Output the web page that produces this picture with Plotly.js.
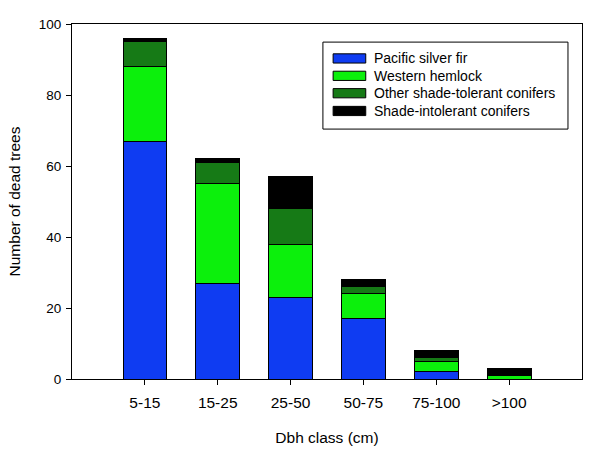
<!DOCTYPE html>
<html>
<head>
<meta charset="utf-8">
<script src="https://cdn.plot.ly/plotly-3.0.1.min.js"></script>
<style>html,body{margin:0;padding:0;background:#fff;}#chart{width:600px;height:449px;}</style>
</head>
<body>
<div id="chart"></div>
<script>
const categories = ['5-15', '15-25', '25-50', '50-75', '75-100', '>100'];
const pacificSilverFir = [67, 27, 23, 17, 2, 0];
const westernHemlock = [21, 28, 15, 7, 3, 1];
const otherShadeTolerant = [7, 6, 10, 2, 1, 0];
const shadeIntolerant = [1, 1, 9, 2, 2, 2];
const seriesNames = ['Pacific silver fir', 'Western hemlock', 'Other shade-tolerant conifers', 'Shade-intolerant conifers'];
const seriesColors = ['#0f3cf2', '#0cf00c', '#167a16', '#000000'];
const yTicks = [0, 20, 40, 60, 80, 100];

const seriesValues = [pacificSilverFir, westernHemlock, otherShadeTolerant, shadeIntolerant];
const font = 'Liberation Sans, Arial, sans-serif';

const traces = seriesValues.map((vals, i) => ({
  type: 'bar',
  x: categories,
  y: vals,
  name: seriesNames[i],
  marker: {color: seriesColors[i], line: {color: '#000', width: 1}},
  showlegend: false,
  hoverinfo: 'skip'
}));

// custom legend (box, swatches, labels)
const shapes = [{
  type: 'rect', xref: 'paper', yref: 'paper',
  x0: 0.492, x1: 0.9725, y0: 0.704, y1: 0.949,
  line: {color: '#000', width: 1}, fillcolor: 'rgba(0,0,0,0)'
}];
const annotations = [];
const rowY = [0.903, 0.854, 0.805, 0.755];
seriesNames.forEach((n, i) => {
  shapes.push({
    type: 'rect', xref: 'paper', yref: 'paper',
    x0: 0.512, x1: 0.576, y0: rowY[i] - 0.013, y1: rowY[i] + 0.013,
    line: {color: '#000', width: 1}, fillcolor: seriesColors[i]
  });
  annotations.push({
    xref: 'paper', yref: 'paper', x: 0.588, y: rowY[i],
    xanchor: 'left', yanchor: 'middle', showarrow: false,
    text: n, font: {family: font, size: 14, color: '#000'}
  });
});

const layout = {
  width: 600, height: 449,
  margin: {l: 72, r: 18, t: 24, b: 70},
  paper_bgcolor: '#fff', plot_bgcolor: '#fff',
  barmode: 'stack', bargap: 0.4,
  font: {family: font, color: '#000'},
  xaxis: {
    type: 'category', range: [-1, 6],
    showline: true, mirror: true, linecolor: '#000', linewidth: 1,
    ticks: 'outside', ticklen: 5, tickcolor: '#000', ticklabelstandoff: 4,
    showgrid: false, zeroline: false,
    tickfont: {family: font, size: 15.5, color: '#000'},
    title: {text: 'Dbh class (cm)', font: {family: font, size: 15.5, color: '#000'}, standoff: 22}
  },
  yaxis: {
    range: [0, 100], tickvals: yTicks, ticktext: yTicks.map(String),
    showline: true, mirror: true, linecolor: '#000', linewidth: 1,
    ticks: 'outside', ticklen: 5, tickcolor: '#000', ticklabelstandoff: 2,
    showgrid: false, zeroline: false,
    tickfont: {family: font, size: 13.5, color: '#000'},
    title: {text: 'Number of dead trees', font: {family: font, size: 15.5, color: '#000'}, standoff: 14}
  },
  shapes: shapes,
  annotations: annotations
};

Plotly.newPlot('chart', traces, layout, {staticPlot: true, displayModeBar: false});
</script>
</body>
</html>
